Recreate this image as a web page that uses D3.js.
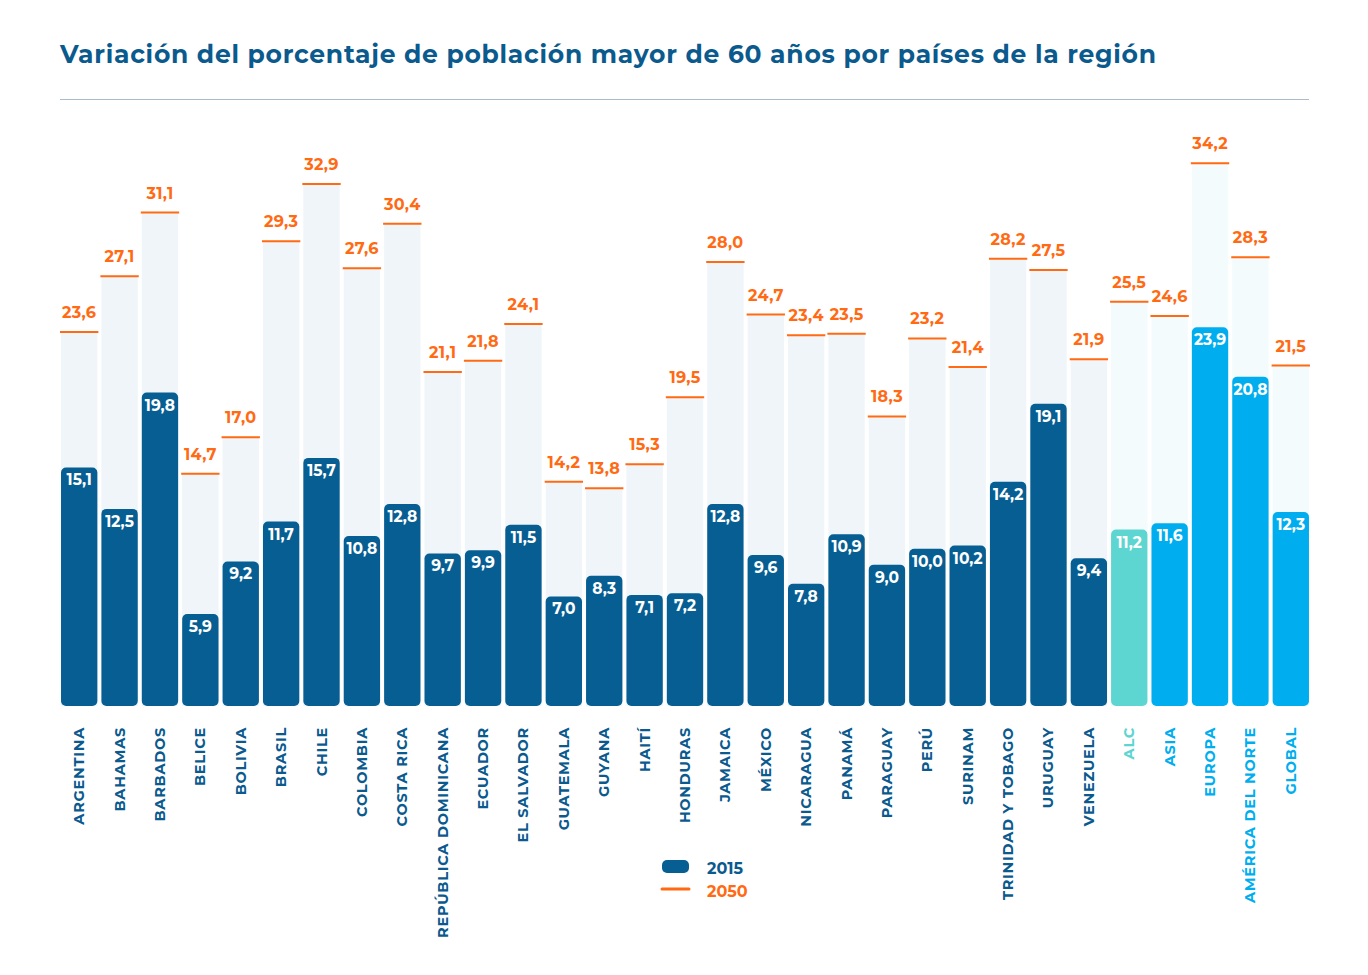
<!DOCTYPE html>
<html lang="es">
<head>
<meta charset="UTF-8">
<title>Población mayor de 60 años</title>
<script src="https://d3js.org/d3.v7.min.js"></script>
<style>
    body { margin: 0; background: #fff; }
    svg text { font-family: "Montserrat", "Lato", "Open Sans", sans-serif; font-weight: 700; }
</style>
</head>
<body>
<div id="chart"></div>
<script>
// data
const paises = ['ARGENTINA', 'BAHAMAS', 'BARBADOS', 'BELICE', 'BOLIVIA', 'BRASIL', 'CHILE', 'COLOMBIA',
    'COSTA RICA', 'REPÚBLICA DOMINICANA', 'ECUADOR', 'EL SALVADOR', 'GUATEMALA', 'GUYANA', 'HAITÍ',
    'HONDURAS', 'JAMAICA', 'MÉXICO', 'NICARAGUA', 'PANAMÁ', 'PARAGUAY', 'PERÚ', 'SURINAM',
    'TRINIDAD Y TOBAGO', 'URUGUAY', 'VENEZUELA', 'ALC', 'ASIA', 'EUROPA', 'AMÉRICA DEL NORTE', 'GLOBAL'];
const valores2015 = [15.1, 12.5, 19.8, 5.9, 9.2, 11.7, 15.7, 10.8, 12.8, 9.7, 9.9, 11.5, 7.0, 8.3, 7.1,
    7.2, 12.8, 9.6, 7.8, 10.9, 9.0, 10.0, 10.2, 14.2, 19.1, 9.4, 11.2, 11.6, 23.9, 20.8, 12.3];
const valores2050 = [23.6, 27.1, 31.1, 14.7, 17.0, 29.3, 32.9, 27.6, 30.4, 21.1, 21.8, 24.1, 14.2, 13.8, 15.3,
    19.5, 28.0, 24.7, 23.4, 23.5, 18.3, 23.2, 21.4, 28.2, 27.5, 21.9, 25.5, 24.6, 34.2, 28.3, 21.5];
// grupo: 0 = país, 1 = ALC, 2 = otras regiones
const grupos = [0, 0, 0, 0, 0, 0, 0, 0, 0, 0, 0, 0, 0, 0, 0, 0, 0, 0, 0, 0, 0, 0, 0, 0, 0, 0, 1, 2, 2, 2, 2];
const series = ['2015', '2050'];

const colorBarra = ['#065e92', '#5dd5d0', '#00aeef'];
const colorFondo = ['#eff5f9', '#f4fbfd', '#f4fbfd'];
const colorEtiqueta = ['#0b5a8e', '#5dd5d0', '#00aeef'];
const naranja = '#ff6a13';

const width = 1368, height = 975;
const svg = d3.select('#chart').append('svg')
    .attr('width', width)
    .attr('height', height);

// title + rule
svg.append('text')
    .attr('x', 60).attr('y', 63)
    .attr('fill', '#0b5a8e')
    .style('font-size', '25px')
    .style('letter-spacing', '0.75px')
    .text('Variación del porcentaje de población mayor de 60 años por países de la región');

svg.append('line')
    .attr('x1', 60).attr('x2', 1309)
    .attr('y1', 99.5).attr('y2', 99.5)
    .attr('stroke', '#aabccb').attr('stroke-width', 1);

const datos = paises.map((p, i) => ({ p, v15: valores2015[i], v50: valores2050[i], g: grupos[i] }));

const x = d3.scaleBand()
    .domain(paises)
    .range([59, 1311])
    .paddingInner(0.1)
    .paddingOuter(0.05);

const y = d3.scaleLinear()
    .domain([0, 34.2])
    .range([708, 708 - 34.2 * 15.93]);

const base = y(0) - 2; // bars stop a little above the zero line

const fmt = v => d3.format('.1f')(v).replace('.', ',');

const g = svg.append('g');

// 2050 background columns
g.selectAll('.fondo')
    .data(datos)
    .enter().append('rect')
    .attr('class', 'fondo')
    .attr('x', d => x(d.p))
    .attr('y', d => y(d.v50))
    .attr('width', x.bandwidth())
    .attr('height', d => base - y(d.v50))
    .attr('fill', d => colorFondo[d.g]);

// 2015 bars
g.selectAll('.barra')
    .data(datos)
    .enter().append('rect')
    .attr('class', 'barra')
    .attr('x', d => x(d.p))
    .attr('y', d => y(d.v15))
    .attr('width', x.bandwidth())
    .attr('height', d => base - y(d.v15))
    .attr('rx', 5)
    .attr('fill', d => colorBarra[d.g]);

g.selectAll('.val15')
    .data(datos)
    .enter().append('text')
    .attr('class', 'val15')
    .attr('x', d => x(d.p) + x.bandwidth() / 2)
    .attr('y', d => y(d.v15) + 18)
    .attr('text-anchor', 'middle')
    .attr('fill', '#fff')
    .style('font-size', '15.5px')
    .text(d => fmt(d.v15));

// 2050 lines + values
g.selectAll('.linea')
    .data(datos)
    .enter().append('line')
    .attr('class', 'linea')
    .attr('x1', d => x(d.p) - 1)
    .attr('x2', d => x(d.p) + x.bandwidth() + 1)
    .attr('y1', d => y(d.v50))
    .attr('y2', d => y(d.v50))
    .attr('stroke', naranja)
    .attr('stroke-width', 2);

g.selectAll('.val50')
    .data(datos)
    .enter().append('text')
    .attr('class', 'val50')
    .attr('x', d => x(d.p) + x.bandwidth() / 2)
    .attr('y', d => y(d.v50) - 14)
    .attr('text-anchor', 'middle')
    .attr('fill', naranja)
    .style('font-size', '16px')
    .style('letter-spacing', '0.3px')
    .text(d => fmt(d.v50));

// category labels, rotated
g.selectAll('.cat')
    .data(datos)
    .enter().append('text')
    .attr('class', 'cat')
    .attr('transform', d => `translate(${x(d.p) + x.bandwidth() / 2 + 5},727) rotate(-90)`)
    .attr('text-anchor', 'end')
    .attr('fill', d => colorEtiqueta[d.g])
    .style('font-size', '14.5px')
    .style('letter-spacing', '0.75px')
    .text(d => d.p);

// legend
const leyenda = svg.append('g').attr('transform', 'translate(662,860)');
leyenda.append('rect')
    .attr('x', 0).attr('y', 0)
    .attr('width', 27).attr('height', 13)
    .attr('rx', 5)
    .attr('fill', colorBarra[0]);
leyenda.append('line')
    .attr('x1', 0).attr('x2', 27)
    .attr('y1', 29).attr('y2', 29)
    .attr('stroke', naranja).attr('stroke-width', 3)
    .attr('stroke-linecap', 'round');
leyenda.selectAll('.ley')
    .data(series)
    .enter().append('text')
    .attr('x', 45)
    .attr('y', (d, i) => 14 + i * 23)
    .attr('fill', (d, i) => i === 0 ? '#0b5a8e' : naranja)
    .style('font-size', '16px')
    .text(d => d);
</script>
</body>
</html>
